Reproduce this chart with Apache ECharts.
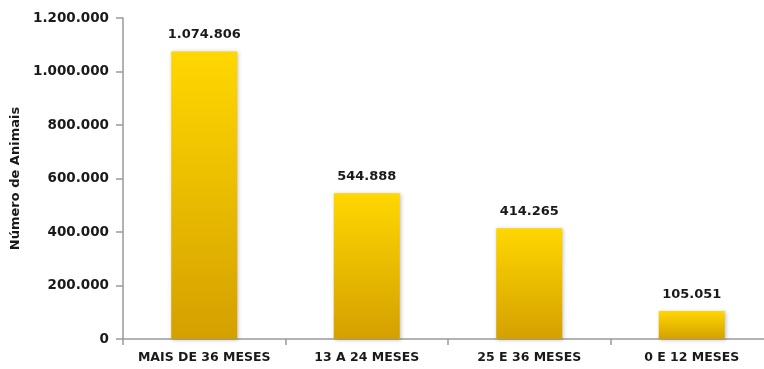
<!DOCTYPE html>
<html>
<head>
<meta charset="utf-8">
<script src="https://cdn.jsdelivr.net/npm/echarts@6/dist/echarts.min.js"></script>
<style>
  html, body { margin: 0; padding: 0; background: #ffffff; overflow: hidden; width: 764px; height: 369px; }
  #chart { width: 773px; height: 369px; }
</style>
</head>
<body>
<div id="chart"></div>
<script>
// Rebanho por faixa etária
const categories = ['MAIS DE 36 MESES', '13 A 24 MESES', '25 E 36 MESES', '0 E 12 MESES'];
const animais = [1074806, 544888, 414265, 105051];
const yTicks = { min: 0, max: 1200000, interval: 200000 };

const fmt = v => String(v).replace(/\B(?=(\d{3})+(?!\d))/g, '.');
const font = 'DejaVu Sans';

// the plot runs a few pixels past the right edge of the page, so the
// last category slot is cut off there
const chart = echarts.init(document.getElementById('chart'), null, { renderer: 'canvas' });
chart.setOption({
  animation: false,
  grid: { left: 123, right: 0, top: 18, bottom: 30 },
  xAxis: {
    type: 'category',
    data: categories,
    axisLine: { lineStyle: { color: '#9a9a9a', width: 1.5 } },
    axisTick: { show: true, length: 6, lineStyle: { color: '#9a9a9a', width: 1.5 } },
    axisLabel: { interval: 0, color: '#1a1a1a', fontFamily: font, fontWeight: 'bold', fontSize: 12.5, margin: 12 }
  },
  yAxis: {
    type: 'value',
    min: yTicks.min, max: yTicks.max, interval: yTicks.interval,
    name: 'Número de Animais',
    nameLocation: 'middle',
    nameGap: 99,
    nameTextStyle: { color: '#1a1a1a', fontFamily: font, fontWeight: 'bold', fontSize: 13 },
    splitLine: { show: false },
    axisLine: { show: true, lineStyle: { color: '#9a9a9a', width: 1.5 } },
    axisTick: { show: true, length: 7, lineStyle: { color: '#9a9a9a', width: 1.5 } },
    axisLabel: { color: '#1a1a1a', fontFamily: font, fontWeight: 'bold', fontSize: 13.5, margin: 14, formatter: fmt }
  },
  series: [{
    type: 'bar',
    data: animais,
    barWidth: 66,
    itemStyle: {
      color: new echarts.graphic.LinearGradient(0, 0, 0, 1, [
        { offset: 0, color: '#ffd700' },
        { offset: 1, color: '#d4a000' }
      ]),
      shadowColor: 'rgba(0,0,0,0.25)',
      shadowBlur: 4,
      shadowOffsetX: 1,
      shadowOffsetY: 1
    },
    label: {
      show: true,
      position: 'top',
      distance: 10,
      color: '#1a1a1a',
      fontFamily: font,
      fontWeight: 'bold',
      fontSize: 13,
      formatter: p => fmt(p.value)
    }
  }]
});
</script>
</body>
</html>
